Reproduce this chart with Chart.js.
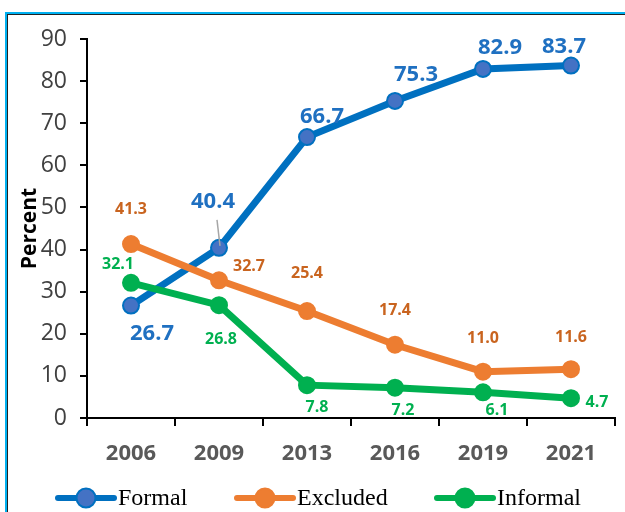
<!DOCTYPE html>
<html>
<head>
<meta charset="utf-8">
<script src="https://cdn.jsdelivr.net/npm/chart.js@4.4.1/dist/chart.umd.min.js"></script>
<style>
  html, body { margin: 0; padding: 0; background: #fff; overflow: hidden; }
  #frame {
    position: absolute; left: 5px; top: 12px; width: 700px; height: 600px;
    border-left: 2px solid #00B0F0; border-top: 2px solid #00B0F0;
  }
  #frame div {
    width: 100%; height: 100%;
    border-left: 1px solid #222; border-top: 1px solid #222;
  }
  #wrap { position: absolute; left: 0; top: 0; width: 625px; height: 512px; }
</style>
</head>
<body>
<div id="frame"><div></div></div>
<div id="wrap"><canvas id="chart"></canvas></div>
<script>
  var years = ['2006', '2009', '2013', '2016', '2019', '2021'];
  var formal = [26.7, 40.4, 66.7, 75.3, 82.9, 83.7];
  var excluded = [41.3, 32.7, 25.4, 17.4, 11.0, 11.6];
  var informal = [32.1, 26.8, 7.8, 7.2, 6.1, 4.7];
  var yTicks = [0, 10, 20, 30, 40, 50, 60, 70, 80, 90];

  // where each value label sits relative to its point (px)
  var labelStyle = [
    { font: 'bold 22px "Open Sans"', color: '#1F70C1',
      offsets: [[21, 28], [-6, -46], [15, -20], [21, -26], [17, -21], [-7, -19]] },
    { font: 'bold 16px "Open Sans"', color: '#C9641F',
      offsets: [[0, -35], [30, -14], [0, -38], [0, -34], [0, -33], [0, -32]] },
    { font: 'bold 16px "Open Sans"', color: '#00B050',
      offsets: [[-13, -18], [2, 34], [10, 22], [8, 23], [14, 18], [26, 4]] }
  ];

  var legendItems = [
    { x: 58, line: '#0070C0', fill: '#4472C4' },
    { x: 237, line: '#ED7D31', fill: '#ED7D31' },
    { x: 437, line: '#00B050', fill: '#00B050' }
  ];

  var valueLabels = {
    id: 'valueLabels',
    afterDatasetsDraw: function (chart) {
      var ctx = chart.ctx;
      ctx.save();
      chart.data.datasets.forEach(function (ds, i) {
        var meta = chart.getDatasetMeta(i);
        var st = labelStyle[i];
        meta.data.forEach(function (pt, j) {
          var off = st.offsets[j];
          var tx = pt.x + off[0], ty = pt.y + off[1];
          if (i === 0 && j === 1) {
            // leader line for 40.4
            ctx.strokeStyle = '#A6A6A6';
            ctx.lineWidth = 1.5;
            ctx.beginPath();
            ctx.moveTo(tx + 4, ty + 18);
            ctx.lineTo(pt.x + 1, pt.y - 2);
            ctx.stroke();
          }
          ctx.font = st.font;
          ctx.fillStyle = st.color;
          ctx.textAlign = 'center';
          ctx.textBaseline = 'middle';
          ctx.fillText(ds.data[j].toFixed(1), tx, ty);
        });
      });
      ctx.restore();
    },
    afterDraw: function (chart) {
      var ctx = chart.ctx;
      ctx.save();
      var y = 498;
      chart.data.datasets.forEach(function (ds, i) {
        var it = legendItems[i];
        ctx.strokeStyle = it.line;
        ctx.lineWidth = 6;
        ctx.lineCap = 'round';
        ctx.beginPath();
        ctx.moveTo(it.x, y);
        ctx.lineTo(it.x + 56, y);
        ctx.stroke();
        ctx.beginPath();
        ctx.arc(it.x + 28, y, 9.5, 0, Math.PI * 2);
        ctx.fillStyle = it.fill;
        ctx.fill();
        ctx.lineWidth = 2;
        ctx.strokeStyle = it.line;
        ctx.stroke();
        ctx.font = '24px "Liberation Serif"';
        ctx.fillStyle = '#000';
        ctx.textAlign = 'left';
        ctx.textBaseline = 'middle';
        ctx.fillText(ds.label, it.x + 60, y + 1);
      });
      ctx.restore();
    }
  };

  function series(label, values, line, fill, order) {
    return {
      label: label,
      data: values,
      borderColor: line,
      backgroundColor: fill,
      borderWidth: 7,
      pointRadius: 8,
      pointBackgroundColor: fill,
      pointBorderColor: line,
      pointBorderWidth: 2,
      tension: 0,
      order: order
    };
  }

  new Chart(document.getElementById('chart'), {
    type: 'line',
    data: {
      labels: years,
      datasets: [
        series('Formal', formal, '#0070C0', '#4472C4', 3),
        series('Excluded', excluded, '#ED7D31', '#ED7D31', 2),
        series('Informal', informal, '#00B050', '#00B050', 1)
      ]
    },
    options: {
      responsive: true,
      maintainAspectRatio: false,
      animation: false,
      layout: { padding: { top: 39, left: 0, right: 2, bottom: 32 } },
      plugins: { legend: { display: false }, tooltip: { enabled: false } },
      scales: {
        x: {
          offset: true,
          grid: { offset: true, drawOnChartArea: false, tickLength: 8, color: '#000', lineWidth: 2 },
          border: { color: '#000', width: 2 },
          ticks: { color: '#595959', padding: 15, font: { family: 'Open Sans', size: 22, weight: 'bold' } },
          afterFit: function (scale) { scale.height = 62; }
        },
        y: {
          min: 0,
          max: 90,
          afterBuildTicks: function (scale) {
            scale.ticks = yTicks.map(function (v) { return { value: v }; });
          },
          grid: { drawOnChartArea: false, tickLength: 7, color: '#000', lineWidth: 2 },
          border: { color: '#000', width: 2 },
          ticks: { color: '#404040', padding: 13, font: { family: 'Open Sans', size: 23 } },
          title: {
            display: true,
            text: 'Percent',
            color: '#000',
            padding: { top: 17, bottom: 0 },
            font: { family: 'Open Sans', size: 21, weight: 'bold' }
          },
          afterFit: function (scale) { scale.width = 87; }
        }
      }
    },
    plugins: [valueLabels]
  });
</script>
</body>
</html>
